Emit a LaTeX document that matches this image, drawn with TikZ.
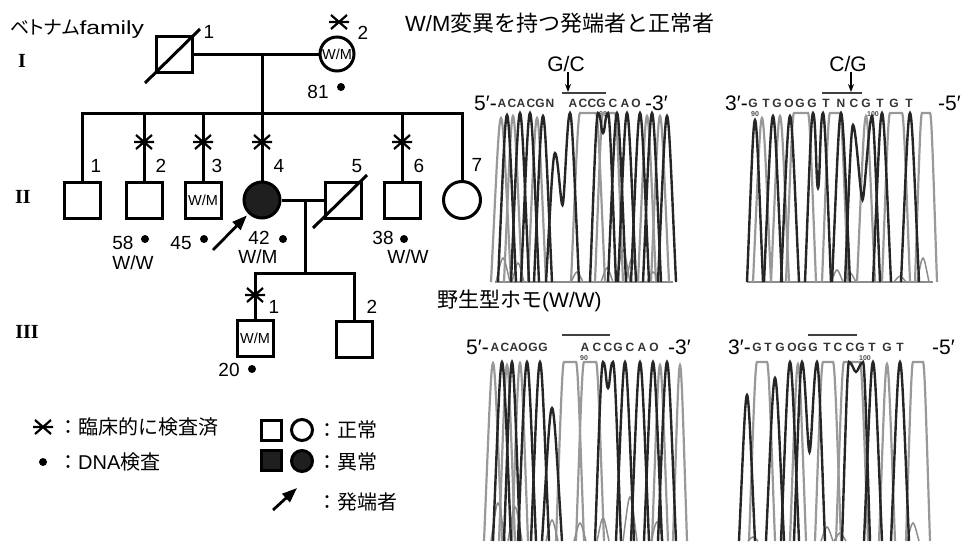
\documentclass[tikz,border=0pt]{standalone}
\usepackage{fontspec}
\setmainfont{Liberation Sans}
\newfontfamily\jpfont{Noto Sans CJK JP}
\newfontfamily\jpprop[RawFeature=+palt]{Noto Sans CJK JP}
\newfontfamily\widesans[FakeStretch=1.3]{Liberation Sans}
\newfontfamily\romfont{Liberation Serif}
\usetikzlibrary{arrows.meta,calc}

% one trace peak per list item: centre/top/half width/flat top
\newcommand{\chrompeaks}[3]{%
  \foreach \xc/\yt/\hw/\fl in {#3}
    \draw[#2] (\xc-\hw-\fl,#1) .. controls (\xc-0.5*\hw-\fl,{#1+0.6*(\yt-#1)}) and (\xc-0.25*\hw-\fl,\yt)
      .. (\xc-\fl,\yt) -- (\xc+\fl,\yt) .. controls (\xc+0.25*\hw+\fl,\yt) and (\xc+0.5*\hw+\fl,{#1+0.6*(\yt-#1)})
      .. (\xc+\hw+\fl,#1);
}
% two peaks of one trace with a dip between them
\newcommand{\chromdouble}[3]{%
  \foreach \xa/\xb/\ya/\yb/\yv/\hw in {#3}
    \draw[#2] (\xa-\hw,#1) .. controls (\xa-0.5*\hw,{#1+0.6*(\ya-#1)}) and (\xa-0.25*\hw,\ya) .. (\xa,\ya)
      .. controls (\xa+3,\ya) and ({(\xa+\xb)/2-2},\yv) .. ({(\xa+\xb)/2},\yv)
      .. controls ({(\xa+\xb)/2+2},\yv) and (\xb-3,\yb) .. (\xb,\yb)
      .. controls (\xb+0.25*\hw,\yb) and (\xb+0.5*\hw,{#1+0.6*(\yb-#1)}) .. (\xb+\hw,#1);
}

\tikzset{
  pedline/.style={line width=3pt},
  male/.style={draw, rectangle, line width=3pt, minimum size=36pt, font=\fontsize{14.5}{14.5}\selectfont},
  female/.style={draw, circle, line width=3pt, minimum size=36pt, font=\fontsize{14.5}{14.5}\selectfont},
  affected/.style={fill=black!88},
  num/.style={font=\fontsize{19}{19}\selectfont},
  gen/.style={font=\romfont\bfseries\fontsize{20}{20}\selectfont},
  jp/.style={font=\jpfont\fontsize{20}{20}\selectfont},
  lgtext/.style={font=\fontsize{20}{20}\selectfont},
  dna/.style={circle, fill, minimum size=8pt},
  proband/.style={-{Triangle[length=15pt,width=11pt]}, line width=2.8pt},
  darktrace/.style={draw=black!85, line width=2.4pt},
  lighttrace/.style={draw=black!40, line width=2.2pt},
  bump/.style={draw=black!45, line width=1.5pt},
  seq/.style={font=\bfseries\fontsize{12}{12}\selectfont, text=black!80},
  seqnum/.style={font=\bfseries\fontsize{7}{7}\selectfont, text=black!70},
  strand/.style={font=\fontsize{21}{21}\selectfont},
  mutbar/.style={line width=2.5pt, black!75},
  pics/clinical/.style={code={\draw[line width=2.2pt] (-10,0) -- (10,0) (-8,-7) -- (8,7) (-8,7) -- (8,-7);}}
}

\begin{document}
\begin{tikzpicture}[x=1pt, y=-1pt, line join=miter, every node/.style={inner sep=0pt}]
  \useasboundingbox (0,0) rectangle (963,541);

  % titles
  \node[anchor=west, font=\fontsize{19}{19}\selectfont] (family) at (10,29) {{\jpprop ベトナム}{\widesans family}};
  \node[anchor=west, font=\fontsize{22}{22}\selectfont] (title) at (405,23) {W/M{\jpfont 変異を持つ発端者と正常者}};
  \node[anchor=west, font=\fontsize{21}{21}\selectfont] (wild) at (437,301) {{\jpfont 野生型ホモ}(W/W)};

  \node[gen] (genI) at (22,61) {I};
  \node[gen] (genII) at (23,197) {II};
  \node[gen] (genIII) at (27,332) {III};

  % generation I
  \node[male] (I1) at (174,54) {};
  \node[female, minimum size=34pt] (I2) at (337,54) {W/M};
  \draw[pedline] (I1) -- (I2);
  \draw[pedline] ($(I1)+(-29,29)$) -- ($(I1)+(26,-25)$);
  \coordinate (m1) at (262,54);
  \coordinate (sib2) at (262,113);
  \draw[pedline] (m1) -- (sib2);

  % generation II
  \node[male] (II1) at (82,200) {};
  \node[male] (II2) at (144,200) {};
  \node[male] (II3) at (203,200) {W/M};
  \node[female, affected] (II4) at (262,200) {};
  \node[male] (II5) at (343,200) {};
  \node[male] (II6) at (402,200) {};
  \node[female, minimum size=37pt] (II7) at (462,200) {};
  \draw[pedline] (II1.north) -- (II1 |- sib2) -- (II7 |- sib2) -- (II7.north);
  \foreach \n in {II2,II3,II4,II6}
    \draw[pedline] (\n |- sib2) -- (\n.north);
  \draw[pedline] (II4) -- (II5);
  \draw[pedline] ($(II5)+(-30,28)$) -- ($(II5)+(24,-25)$);
  \coordinate (m2) at (305,200);
  \coordinate (sib3) at (305,273);
  \draw[pedline] (m2) -- (sib3);

  % generation III
  \node[male] (III1) at (255,338) {W/M};
  \node[male] (III2) at (354,339) {};
  \draw[pedline] (III1.north) -- (III1 |- sib3) -- (III2 |- sib3) -- (III2.north);

  % marks, numbers, ages
  \foreach \x/\y in {144/142, 203/142, 262/142, 402/142, 255/295, 339/22}
    \pic at (\x,\y) {clinical};
  \foreach \x/\y/\t [count=\i] in {209/32/1, 363/33/2, 96/166/1, 161/166/2, 217/166/3,
      279/166/4, 357/166/5, 419/166/6, 477/165/7, 274/307/1, 372/307/2}
    \node[num] (lab\i) at (\x,\y) {\t};
  \foreach \x/\y [count=\i] in {341/87, 145/239, 204/239, 283/239, 404/239, 252/369}
    \node[dna] (dna\i) at (\x,\y) {};
  \foreach \x/\y/\t [count=\i] in {318/92/81, 123/243/58, 181/243/45, 259/238/42, 383/238/38, 229/370/20}
    \node[num] (age\i) at (\x,\y) {\t};
  \node[num] (gt2) at (133,263) {W/W};
  \node[num] (gt4) at (258,257) {W/M};
  \node[num] (gt6) at (408,257) {W/W};
  \coordinate (pa) at (213,250);
  \draw[proband, shorten >=2pt] (pa) -- (II4);

  % legend
  \pic at (43,427) {clinical};
  \node[jp, anchor=west] (lg1) at (58,427) {：臨床的に検査済};
  \node[dna] (lgdot) at (43,462) {};
  \node[lgtext, anchor=west] (lg2) at (58,462) {{\jpfont ：}DNA{\jpfont 検査}};
  \node[male, minimum size=20pt] (lgm) at (271,430) {};
  \node[female, minimum size=21pt] (lgf) at (302,430) {};
  \node[male, affected, minimum size=20pt] (lgma) at (271,460) {};
  \node[female, affected, minimum size=21pt] (lgfa) at (302,461) {};
  \node[jp, anchor=west] (lg3) at (317,430) {：正常};
  \node[jp, anchor=west] (lg4) at (317,462) {：異常};
  \coordinate (lgtail) at (273,510);
  \coordinate (lgtip) at (297,488);
  \draw[proband] (lgtail) -- (lgtip);
  \node[jp, anchor=west] (lg5) at (317,502) {：発端者};

  % proband sequences
  \node[strand] (gc) at (566,64) {G/C};
  \draw[-{Stealth[length=8pt,width=6pt]}, line width=1.6pt] (gc.south -| 568,0) -- (568,92);
  \draw[mutbar] (562,93) -- (606,93);
  \node[strand] (cg) at (848,64) {C/G};
  \draw[-{Stealth[length=8pt,width=6pt]}, line width=1.6pt] (cg.south -| 851,0) -- (851,92);
  \draw[mutbar] (822,93) -- (862,93);

  \node[strand, anchor=east] (tl5) at (497,103) {5′-};
  \node[strand, anchor=west] (tl3) at (645,103) {-3′};
  \foreach \xl/\ch [count=\i] in {502/A,512/C,521/A,531/C,540/G,550/N,573/A,583/C,592/C,601/G,613/C,625/A,636/O}
    \node[seq] (tls\i) at (\xl,103) {\ch};
  \node[seqnum] (tl90) at (603,114) {90};
  \node[strand, anchor=east] (tr3) at (748,103) {3′-};
  \node[strand, anchor=west] (tr5) at (938,103) {-5′};
  \foreach \xl/\ch [count=\i] in {753/G,766/T,777/G,789/O,800/G,812/G,826/T,841/N,854/C,866/G,880/T,894/G,909/T}
    \node[seq] (trs\i) at (\xl,103) {\ch};
  \node[seqnum] (tr90) at (755,114) {90};
  \node[seqnum] (tr100) at (873,114) {100};

  % wild type sequences
  \draw[mutbar] (562,335) -- (610,335);
  \draw[mutbar] (808,335) -- (857,335);
  \node[strand, anchor=east] (bl5) at (489,347) {5′-};
  \node[strand, anchor=west] (bl3) at (668,347) {-3′};
  \foreach \xl/\ch [count=\i] in {495/A,505/C,514/A,523/O,533/G,543/G,585/A,597/C,608/C,618/G,630/C,642/A,654/O}
    \node[seq] (bls\i) at (\xl,347) {\ch};
  \node[seqnum] (bl90) at (584,358) {90};
  \node[strand, anchor=east] (br3) at (751,347) {3′-};
  \node[strand, anchor=west] (br5) at (932,347) {-5′};
  \foreach \xl/\ch [count=\i] in {757/G,768/T,780/G,792/O,802/G,813/G,827/T,838/C,850/C,860/G,872/T,887/G,900/T}
    \node[seq] (brs\i) at (\xl,347) {\ch};
  \node[seqnum] (br100) at (865,358) {100};

  % chromatogram traces
  \draw[bump] (495,282) -- (673,282);
  \chrompeaks{282}{lighttrace}{501/118/10/0, 513/116/9/0, 537/118/9/0, 588/113/9/8, 609/113/8/6, 647/116/9/0, 660/116/9/0}
  \chrompeaks{282}{bump}{503/258/7/0, 518/263/6/0, 577/272/6/0, 607/268/6/0, 623/250/7/0, 632/258/6/0, 653/272/6/0}
  \chrompeaks{282}{darktrace}{507/115/9/0, 520/113/9/0, 530/113/9/0, 543/116/9/0, 617/113/9/0, 627/113/9/0, 640/113/9/0, 652/113/9/0, 667/116/9/0}
  \chromdouble{282}{darktrace}{555/570/153/113/205/9, 598/608/113/113/133/8}

  \draw[bump] (747,282) -- (933,282);
  \chrompeaks{282}{lighttrace}{762/118/9/0, 780/116/9/0, 801/113/8/7, 835/113/8/5, 866/116/9/0, 896/113/8/6, 926/113/7/4}
  \chrompeaks{282}{bump}{837/270/6/0, 850/273/6/0, 900/276/6/0, 923/258/6/0}
  \chrompeaks{282}{darktrace}{755/120/8/0, 773/116/9/0, 790/116/9/0, 841/113/9/0, 882/113/9/0, 910/113/9/0}
  \chromdouble{282}{darktrace}{813/823/113/113/188/8, 853/872/125/116/200/8}

  \chrompeaks{541}{lighttrace}{493/363/9/0, 507/365/8/0, 520/363/8/0, 570/362/8/6, 590/362/8/6, 660/365/8/0, 680/365/7/0}
  \chrompeaks{541}{bump}{498/503/7/0, 515/507/7/0, 552/520/6/0, 580/523/6/0, 603/518/6/0, 630/497/7/0, 657/522/6/0}
  \chrompeaks{541}{darktrace}{502/362/9/0, 512/362/8/0, 527/362/9/0, 540/362/9/0, 552/408/10/0, 625/362/9/0, 640/362/9/0, 653/362/9/0, 667/362/9/0}
  \chromdouble{541}{darktrace}{603/613/362/362/388/8}

  \chrompeaks{541}{lighttrace}{762/362/8/5, 798/364/8/0, 828/362/8/5, 852/362/8/8, 887/364/8/0, 918/362/7/5}
  \chrompeaks{541}{bump}{753/537/5/0, 827/527/6/0, 840/533/6/0, 913/523/6/0}
  \chrompeaks{541}{darktrace}{747/395/8/0, 775/378/9/0, 790/362/9/0, 873/362/9/0, 900/362/9/0}
  \chromdouble{541}{darktrace}{802/817/362/362/452/8, 849/863/362/362/372/7}
\end{tikzpicture}
\end{document}
